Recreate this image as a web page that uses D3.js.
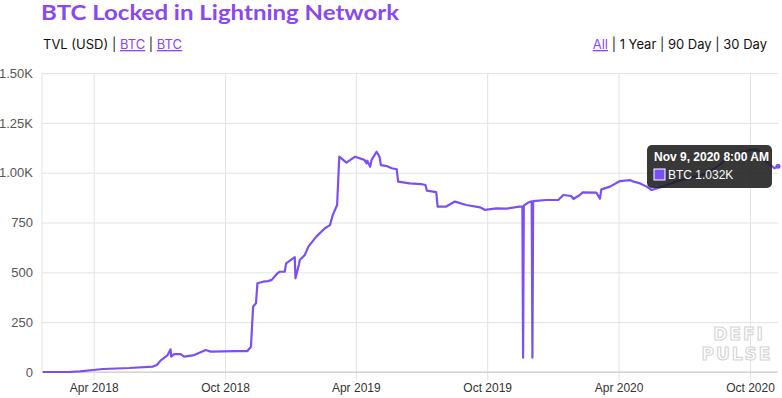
<!DOCTYPE html>
<html>
<head>
<meta charset="utf-8">
<script src="https://cdn.jsdelivr.net/npm/d3@7"></script>
<style>
  body { margin: 0; background: #fff; }
  svg { display: block; }
</style>
</head>
<body>
<div id="chart"></div>
<script>
// BTC locked (date, BTC)
var dates = [
  "2018-01-20","2018-02-25","2018-03-13","2018-03-31","2018-04-14","2018-05-21","2018-06-22","2018-06-28",
  "2018-07-03","2018-07-13","2018-07-17","2018-07-18","2018-07-22","2018-07-31","2018-08-05","2018-08-19",
  "2018-09-04","2018-09-11","2018-10-16","2018-11-01","2018-11-06","2018-11-09","2018-11-13","2018-11-15",
  "2018-11-23","2018-11-30","2018-12-05","2018-12-12","2018-12-16","2018-12-23","2018-12-25","2019-01-06",
  "2019-01-07","2019-01-12","2019-01-13","2019-01-20","2019-01-25","2019-02-05","2019-02-17","2019-02-24",
  "2019-02-28","2019-03-06","2019-03-09","2019-03-19","2019-03-31","2019-04-13","2019-04-16","2019-04-17",
  "2019-04-21","2019-04-23","2019-04-30","2019-05-04","2019-05-06","2019-05-14","2019-05-21","2019-05-28",
  "2019-05-30","2019-06-15","2019-07-01","2019-07-07","2019-07-09","2019-07-22","2019-07-24","2019-08-05",
  "2019-08-17","2019-09-02","2019-09-21","2019-09-28","2019-10-14","2019-10-28","2019-11-15","2019-11-19",
  "2019-11-20","2019-11-21","2019-11-27","2019-12-02","2019-12-03","2019-12-04","2019-12-22","2020-01-08",
  "2020-01-15","2020-01-26","2020-01-29","2020-02-07","2020-02-11","2020-03-01","2020-03-06","2020-03-08",
  "2020-03-20","2020-04-03","2020-04-17","2020-04-22","2020-05-01","2020-05-10","2020-05-17","2020-06-01",
  "2020-06-20","2020-07-10","2020-08-01","2020-08-20","2020-09-05","2020-09-20","2020-10-01","2020-10-10",
  "2020-10-16","2020-10-22","2020-10-27","2020-11-04","2020-11-09"
];
var btc = [
  0, 0, 3, 10, 15, 20, 27, 35,
  57, 85, 114, 77, 90, 90, 77, 85,
  110, 102, 105, 105, 127, 328, 345, 445,
  453, 456, 462, 492, 503, 503, 545, 576,
  470, 542, 562, 587, 629, 679, 721, 737,
  788, 838, 1080, 1050, 1080, 1064, 1047, 1060,
  1030, 1064, 1105, 1080, 1038, 1033, 1022, 1017,
  955, 946, 943, 938, 910, 902, 830, 830,
  855, 838, 826, 813, 821, 820, 830, 830,
  72, 835, 850, 856, 72, 857, 863, 863,
  888, 883, 868, 888, 901, 900, 870, 916,
  930, 958, 963, 955, 946, 930, 913, 930,
  955, 975, 995, 1040, 1085, 1105, 1113, 1117,
  1100, 1060, 1047, 1022, 1032
];
var yTicks = [0, 250, 500, 750, 1000, 1250, 1500];
var xTicks = ["2018-04-01","2018-10-01","2019-04-01","2019-10-01","2020-04-01","2020-10-01"];
var leftLinks = ["TVL (USD)", "BTC", "BTC"];
var rangeLinks = ["All", "1 Year", "90 Day", "30 Day"];

var parse = d3.timeParse("%Y-%m-%d");
var data = dates.map(function (d, i) { return { date: parse(d), value: btc[i] }; });

var W = 782, H = 398;
var margin = { top: 73, right: 4, bottom: 26, left: 42 };
var width = W - margin.left - margin.right;
var height = H - margin.top - margin.bottom;
var purple = "#7a50f5";
var headFont = "Inter, Lato, sans-serif";

var svg = d3.select("#chart").append("svg")
  .attr("width", W).attr("height", H)
  .style("font-family", "'Liberation Sans', Arial, sans-serif");

// title
svg.append("text")
  .attr("x", 41).attr("y", 20)
  .attr("fill", "#8a48f2")
  .attr("textLength", 358).attr("lengthAdjust", "spacingAndGlyphs")
  .style("font-family", "Lato, 'Open Sans', sans-serif")
  .style("font-weight", "bold")
  .style("font-size", "21px")
  .text("BTC Locked in Lightning Network");

// series switch on the left
var sub = svg.append("text").attr("x", 43).attr("y", 49)
  .style("font-family", headFont)
  .style("font-size", "13px");
leftLinks.forEach(function (t, i) {
  if (i > 0) sub.append("tspan").attr("fill", "#222").text(" | ");
  sub.append("tspan")
    .attr("fill", i === 0 ? "#111" : "#8a48f2")
    .style("text-decoration", i === 0 ? "none" : "underline")
    .text(t);
});

// range switch on the right
var rng = svg.append("text").attr("x", 767).attr("y", 49)
  .attr("text-anchor", "end")
  .style("font-family", headFont)
  .style("font-size", "13px");
rangeLinks.forEach(function (t, i) {
  if (i > 0) rng.append("tspan").attr("fill", "#222").text(" | ");
  rng.append("tspan")
    .attr("fill", i === 0 ? "#8a48f2" : "#111")
    .style("text-decoration", i === 0 ? "underline" : "none")
    .text(t);
});

var g = svg.append("g").attr("transform", "translate(" + margin.left + "," + margin.top + ")");

var x = d3.scaleTime()
  .domain([parse("2018-01-19"), parse("2020-11-09")])
  .range([0, width]);
var y = d3.scaleLinear().domain([0, 1500]).range([height, 0]);

var fmtY = function (v) { return v >= 1000 ? (v / 1000).toFixed(2) + "K" : v; };

// y grid + labels
var yAxis = g.append("g")
  .call(d3.axisLeft(y).tickValues(yTicks).tickSize(-width).tickFormat(fmtY));
yAxis.select(".domain").remove();
yAxis.selectAll("line").attr("stroke", "#e2e2e2");
yAxis.selectAll("text").attr("fill", "#555").attr("x", -9)
  .style("font-size", "13px").style("font-family", "'Liberation Sans', Arial, sans-serif");

// x grid + labels
var xAxis = g.append("g")
  .attr("transform", "translate(0," + height + ")")
  .call(d3.axisBottom(x).tickValues(xTicks.map(parse))
    .tickSize(-height).tickFormat(d3.timeFormat("%b %Y")));
xAxis.select(".domain").remove();
xAxis.selectAll("line").attr("stroke", "#e2e2e2").attr("y2", -height).attr("y1", 8);
xAxis.selectAll("text").attr("fill", "#333").attr("y", 11)
  .style("font-size", "12px").style("font-family", "'Liberation Sans', Arial, sans-serif");

// left edge and baseline
g.append("line").attr("x1", 0).attr("x2", 0).attr("y1", 0).attr("y2", height).attr("stroke", "#e2e2e2");
g.append("line").attr("x1", 0).attr("x2", width).attr("y1", height).attr("y2", height).attr("stroke", "#c8c8c8");

// watermark
var wm = svg.append("g")
  .style("font-family", "'DejaVu Sans', sans-serif")
  .style("font-weight", "bold")
  .style("font-size", "17px")
  .style("letter-spacing", "2px")
  .attr("text-anchor", "middle")
  .attr("fill", "#fff").attr("stroke", "#d6d6d6").attr("stroke-width", 1.2);
wm.append("text").attr("x", 739).attr("y", 340).text("DEFI");
wm.append("text").attr("x", 737).attr("y", 360).text("PULSE");

// line
var line = d3.line().x(function (d) { return x(d.date); }).y(function (d) { return y(d.value); });
g.append("path").datum(data)
  .attr("fill", "none")
  .attr("stroke", purple)
  .attr("stroke-width", 2.2)
  .attr("stroke-linejoin", "round")
  .attr("d", line);

var last = data[data.length - 1];
g.append("circle").attr("cx", x(last.date)).attr("cy", y(last.value)).attr("r", 2.5).attr("fill", purple);

// tooltip
var tip = svg.append("g").attr("transform", "translate(647,145)");
tip.append("rect").attr("width", 125).attr("height", 43).attr("rx", 5)
  .attr("fill", "rgba(28,28,28,0.88)");
tip.append("text").attr("x", 7).attr("y", 16)
  .attr("fill", "#fff").style("font-weight", "bold").style("font-size", "12px")
  .text(d3.timeFormat("%b %-d, %Y")(last.date) + " 8:00 AM");
tip.append("rect").attr("x", 7).attr("y", 24).attr("width", 11).attr("height", 11)
  .attr("fill", purple).attr("stroke", "#fff").attr("stroke-width", 1);
tip.append("text").attr("x", 21).attr("y", 34)
  .attr("fill", "#fff").style("font-size", "12px")
  .text("BTC " + (last.value / 1000).toFixed(3) + "K");
</script>
</body>
</html>
